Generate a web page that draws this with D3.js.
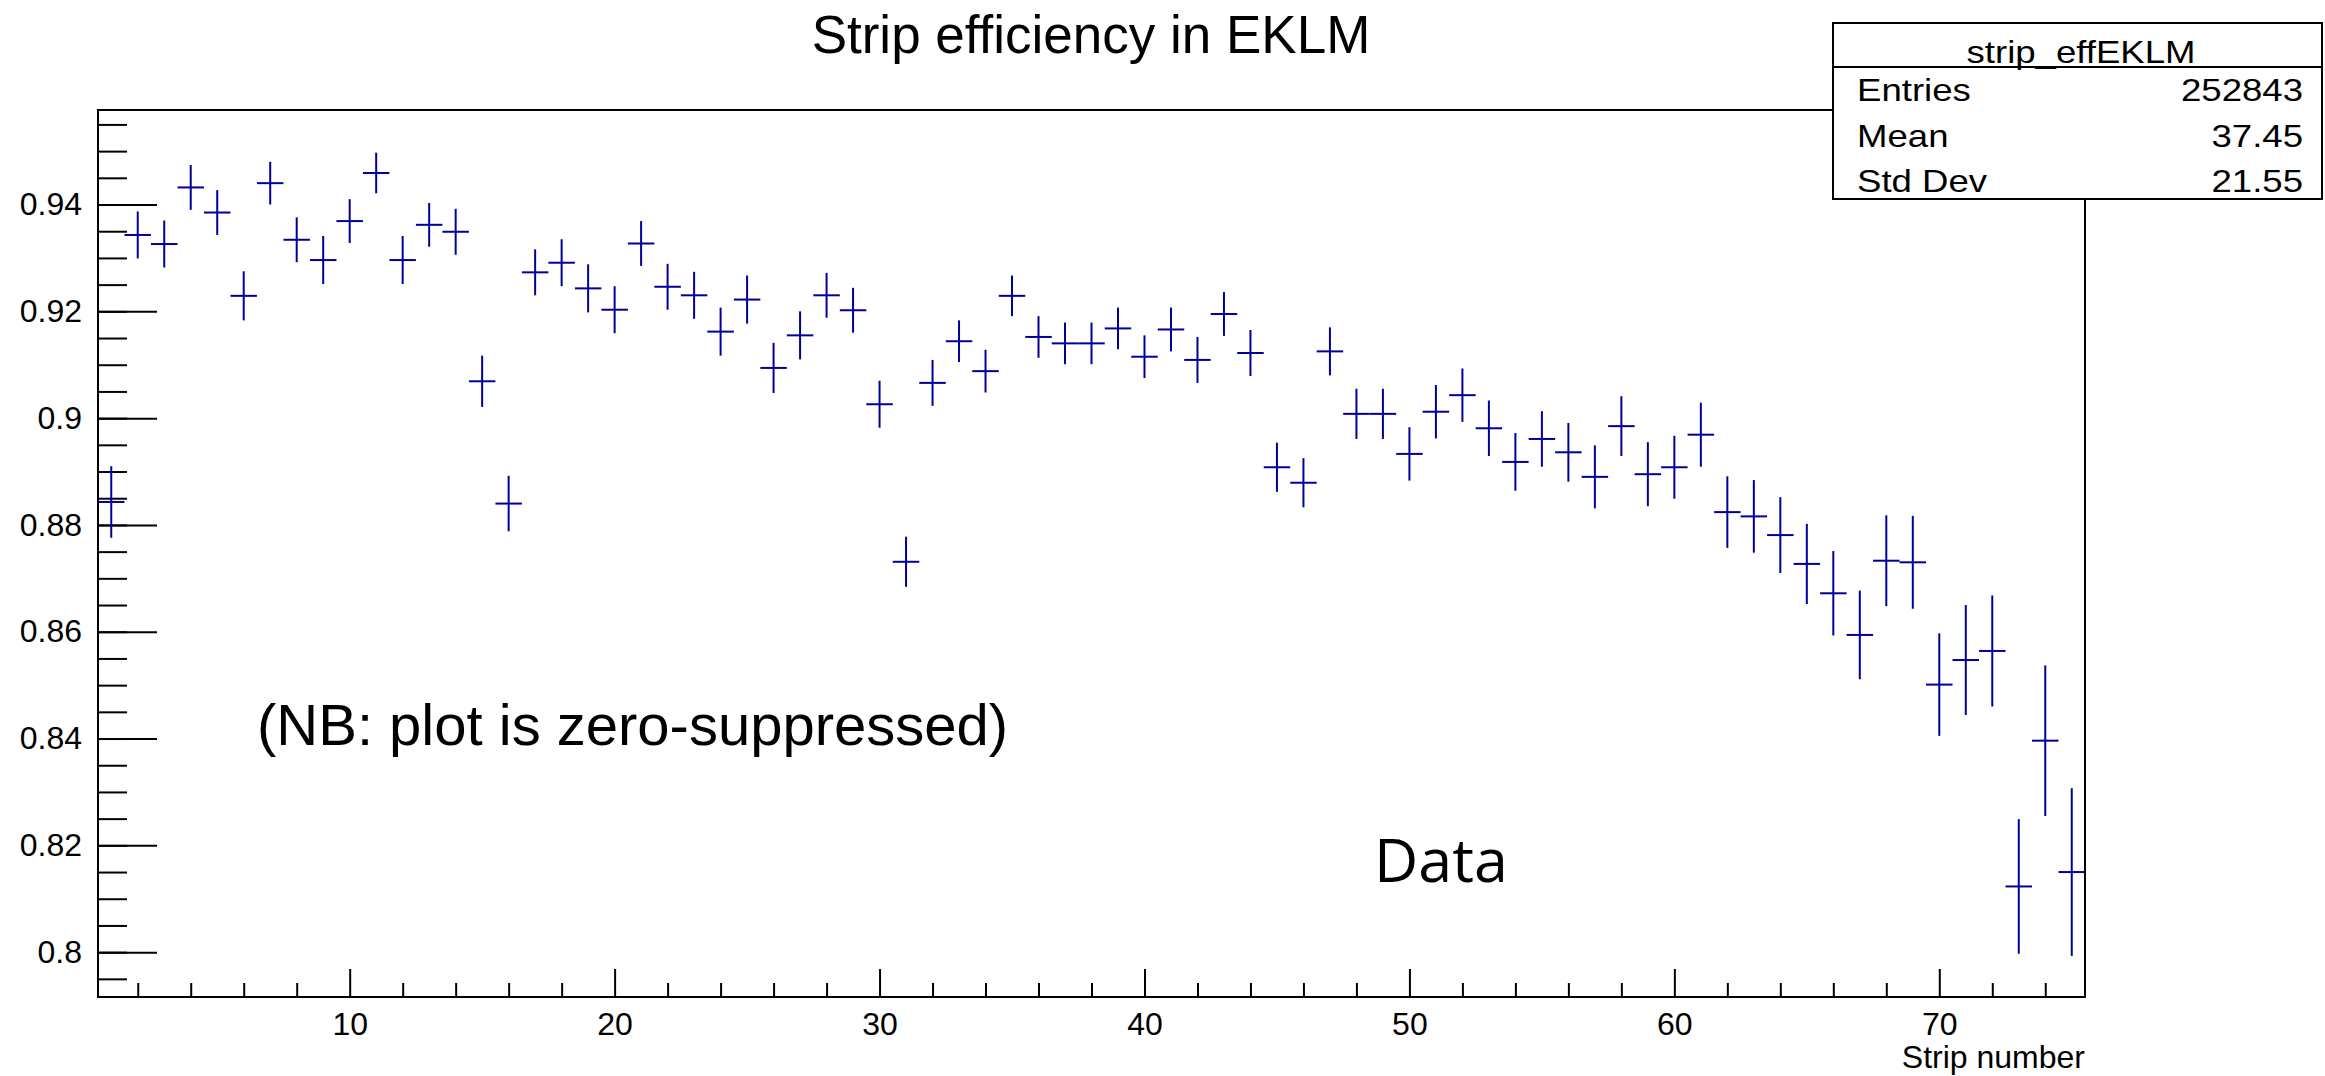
<!DOCTYPE html>
<html>
<head>
<meta charset="utf-8">
<script src="https://cdn.jsdelivr.net/npm/d3@7"></script>
<style>
    html, body { margin: 0; padding: 0; background: #fff; }
    svg { display: block; }
    .root-text { font-family: 'Liberation Sans', Arial, Helvetica, sans-serif; fill: #000; }
    .axis text { font-family: 'Liberation Sans', Arial, Helvetica, sans-serif; font-size: 32px; fill: #000; }
    .axis line { stroke: #000; stroke-width: 2; }
    .axis path { display: none; }
</style>
</head>
<body>
<svg id="chart"></svg>
<script>
// strip efficiency per strip
const strips = d3.range(1, 76)
const efficiency = [
    0.8843, 0.9343, 0.9326, 0.9432, 0.9385, 0.9229, 0.9440, 0.9334, 0.9296, 0.9369,
    0.9459, 0.9296, 0.9362, 0.9349, 0.9069, 0.8840, 0.9273, 0.9291, 0.9243, 0.9203,
    0.9327, 0.9246, 0.9230, 0.9162, 0.9222, 0.9094, 0.9155, 0.9230, 0.9202, 0.9026,
    0.8731, 0.9066, 0.9144, 0.9088, 0.9229, 0.9152, 0.9140, 0.9140, 0.9168, 0.9115,
    0.9166, 0.9109, 0.9195, 0.9122, 0.8908, 0.8879, 0.9125, 0.9008, 0.9008, 0.8933,
    0.9012, 0.9043, 0.8981, 0.8918, 0.8961, 0.8936, 0.8890, 0.8985, 0.8895, 0.8908,
    0.8969, 0.8824, 0.8816, 0.8781, 0.8727, 0.8672, 0.8594, 0.8733, 0.8730, 0.8501,
    0.8547, 0.8564, 0.8123, 0.8396, 0.8150,
]
const errors = [
    0.0067, 0.0044, 0.0044, 0.0042, 0.0042, 0.0046, 0.0040, 0.0042, 0.0045, 0.0041,
    0.0038, 0.0045, 0.0041, 0.0043, 0.0048, 0.0052, 0.0043, 0.0044, 0.0045, 0.0044,
    0.0042, 0.0043, 0.0044, 0.0045, 0.0045, 0.0047, 0.0045, 0.0042, 0.0042, 0.0044,
    0.0047, 0.0043, 0.0039, 0.0040, 0.0038, 0.0039, 0.0039, 0.0039, 0.0039, 0.0040,
    0.0041, 0.0043, 0.0041, 0.0043, 0.0046, 0.0046, 0.0045, 0.0047, 0.0047, 0.0050,
    0.0050, 0.0050, 0.0052, 0.0054, 0.0052, 0.0055, 0.0059, 0.0056, 0.0060, 0.0059,
    0.0060, 0.0067, 0.0068, 0.0071, 0.0075, 0.0079, 0.0083, 0.0085, 0.0087, 0.0096,
    0.0103, 0.0104, 0.0126, 0.0141, 0.0157,
]

const xMajorTicks = [10, 20, 30, 40, 50, 60, 70]
const xMinorTicks = d3.range(2, 76, 2)
const yMajorTicks = [0.8, 0.82, 0.84, 0.86, 0.88, 0.9, 0.92, 0.94]
const yMinorTicks = d3.range(159, 192).map(d => d * 0.005)
const yTickLabels = ['0.8', '0.82', '0.84', '0.86', '0.88', '0.9', '0.92', '0.94']

const statsTitle = 'strip_effEKLM'
const statsNames = ['Entries', 'Mean', 'Std Dev']
const statsValues = ['252843', '37.45', '21.55']

const WIDTH = 2325
const HEIGHT = 1076
const frame = { left: 98, right: 2085, top: 110, bottom: 997 }
const LINE_COLOR = '#000099'

const svg = d3.select('#chart')
    .attr('width', WIDTH)
    .attr('height', HEIGHT)
    .attr('viewBox', [0, 0, WIDTH, HEIGHT].join(' '))

const xScale = d3.scaleLinear().domain([0.5, 75.5]).range([frame.left, frame.right])
const yScale = d3.scaleLinear().domain([0.7916, 0.9577]).range([frame.bottom, frame.top])

// title
svg.append('text')
    .attr('class', 'root-text')
    .attr('x', 1091)
    .attr('y', 53)
    .attr('text-anchor', 'middle')
    .attr('font-size', 53)
    .text('Strip efficiency in EKLM')

// axes, ticks point inwards like ROOT
svg.append('g')
    .attr('class', 'axis')
    .attr('transform', `translate(0,${frame.bottom})`)
    .call(d3.axisBottom(xScale).tickValues(xMinorTicks.filter(d => d % 10 !== 0))
        .tickSize(-14).tickFormat(''))

svg.append('g')
    .attr('class', 'axis')
    .attr('transform', `translate(0,${frame.bottom})`)
    .call(d3.axisBottom(xScale).tickValues(xMajorTicks).tickSize(-28).tickPadding(15)
        .tickFormat(d3.format('d')))

svg.append('g')
    .attr('class', 'axis')
    .attr('transform', `translate(${frame.left},0)`)
    .call(d3.axisLeft(yScale).tickValues(yMinorTicks).tickSize(-29).tickFormat(''))

svg.append('g')
    .attr('class', 'axis')
    .attr('transform', `translate(${frame.left},0)`)
    .call(d3.axisLeft(yScale).tickValues(yMajorTicks).tickSize(-59).tickPadding(16)
        .tickFormat((d, i) => yTickLabels[i]))

svg.append('text')
    .attr('class', 'root-text')
    .attr('x', frame.right)
    .attr('y', 1068)
    .attr('text-anchor', 'end')
    .attr('font-size', 32)
    .text('Strip number')

// data points with error bars
const points = strips.map((s, i) => ({ strip: s, eff: efficiency[i], err: errors[i] }))
const marks = svg.append('g')
    .attr('stroke', LINE_COLOR)
    .attr('stroke-width', 2)

marks.selectAll('line.hbar')
    .data(points)
    .join('line')
    .attr('class', 'hbar')
    .attr('x1', d => xScale(d.strip - 0.5))
    .attr('x2', d => xScale(d.strip + 0.5))
    .attr('y1', d => yScale(d.eff))
    .attr('y2', d => yScale(d.eff))

marks.selectAll('line.vbar')
    .data(points)
    .join('line')
    .attr('class', 'vbar')
    .attr('x1', d => xScale(d.strip))
    .attr('x2', d => xScale(d.strip))
    .attr('y1', d => yScale(d.eff - d.err))
    .attr('y2', d => yScale(d.eff + d.err))

// frame
svg.append('rect')
    .attr('x', frame.left)
    .attr('y', frame.top)
    .attr('width', frame.right - frame.left)
    .attr('height', frame.bottom - frame.top)
    .attr('fill', 'none')
    .attr('stroke', '#000')
    .attr('stroke-width', 2)

// annotations
svg.append('text')
    .attr('class', 'root-text')
    .attr('x', 257)
    .attr('y', 745)
    .attr('font-size', 58)
    .text('(NB: plot is zero-suppressed)')

svg.append('text')
    .attr('x', 1374)
    .attr('y', 882)
    .attr('font-family', "'Open Sans', Lato, sans-serif")
    .attr('font-size', 61)
    .attr('fill', '#000')
    .text('Data')

// stats box
const box = { left: 1833, right: 2322, top: 23, bottom: 199, split: 67 }
const STATS_SX = 1.18
const stats = svg.append('g')

stats.append('rect')
    .attr('x', box.left)
    .attr('y', box.top)
    .attr('width', box.right - box.left)
    .attr('height', box.bottom - box.top)
    .attr('fill', '#fff')
    .attr('stroke', '#000')
    .attr('stroke-width', 2)

stats.append('line')
    .attr('x1', box.left)
    .attr('x2', box.right)
    .attr('y1', box.split)
    .attr('y2', box.split)
    .attr('stroke', '#000')
    .attr('stroke-width', 2)

stats.append('text')
    .attr('class', 'root-text')
    .attr('transform', `translate(2081,63) scale(${STATS_SX},1)`)
    .attr('text-anchor', 'middle')
    .attr('font-size', 31)
    .text(statsTitle)

const rowY = d3.scalePoint().domain(statsNames).range([101, 192])

stats.selectAll('text.stat-name')
    .data(statsNames)
    .join('text')
    .attr('class', 'root-text stat-name')
    .attr('transform', d => `translate(1857,${rowY(d)}) scale(${STATS_SX},1)`)
    .attr('font-size', 31)
    .text(d => d)

stats.selectAll('text.stat-value')
    .data(statsValues)
    .join('text')
    .attr('class', 'root-text stat-value')
    .attr('transform', (d, i) => `translate(2303,${rowY(statsNames[i])}) scale(${STATS_SX},1)`)
    .attr('text-anchor', 'end')
    .attr('font-size', 31)
    .text(d => d)
</script>
</body>
</html>
